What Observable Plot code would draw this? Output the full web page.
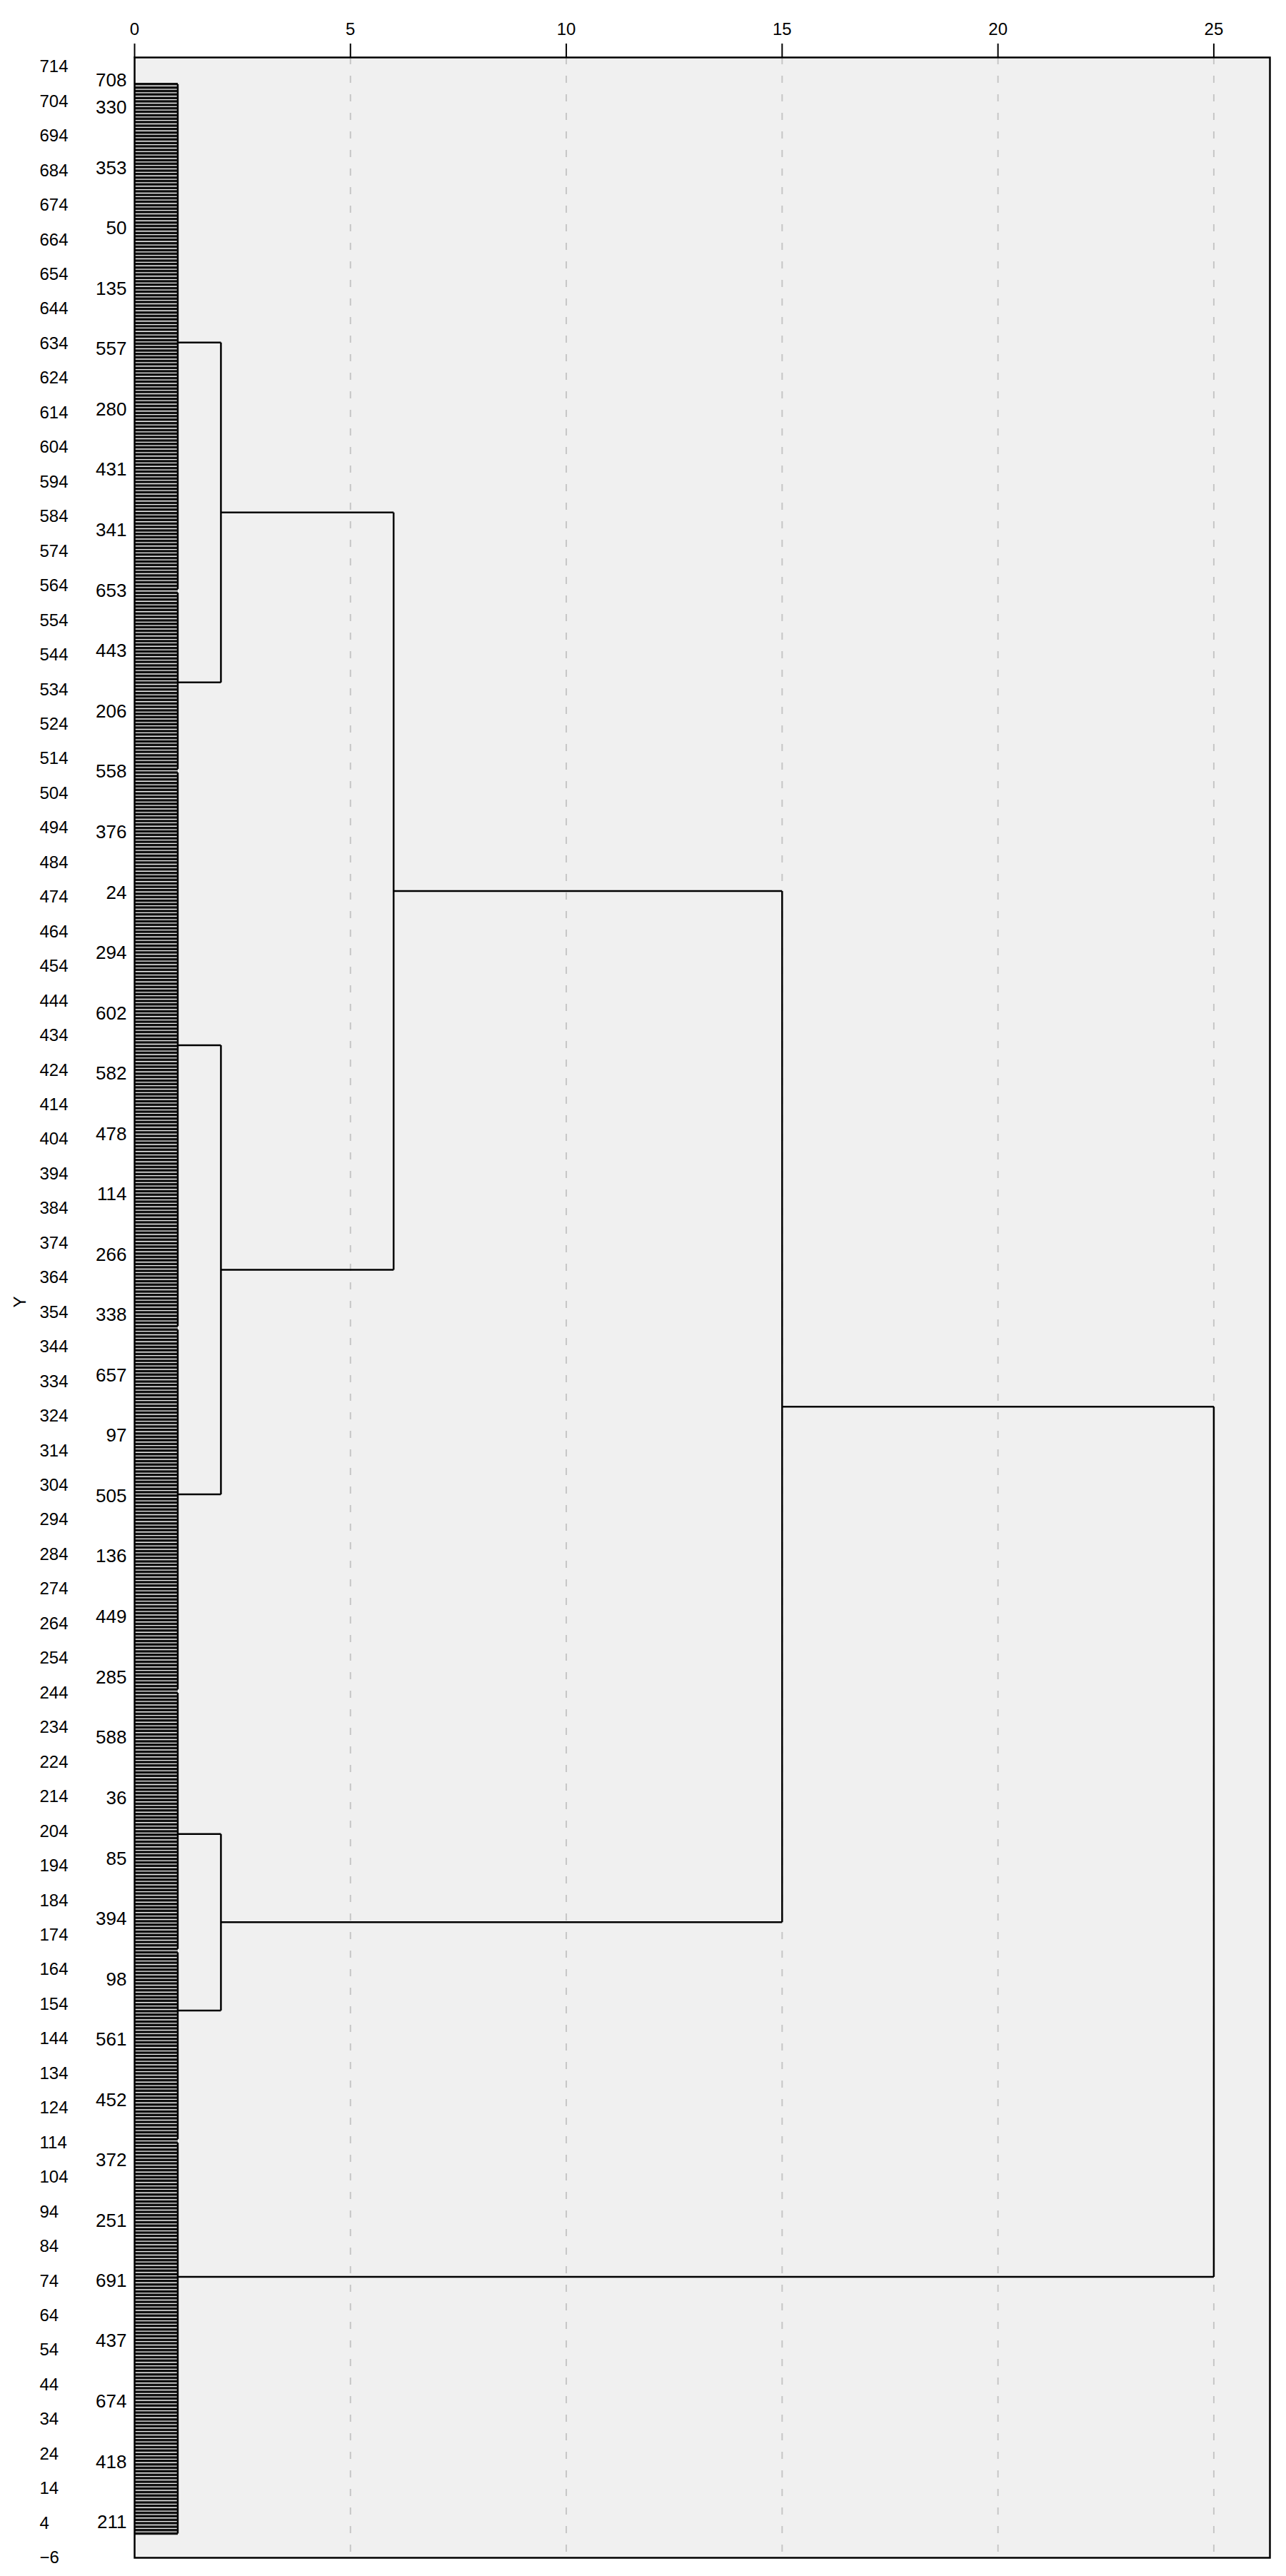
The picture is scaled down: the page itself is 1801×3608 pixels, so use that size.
<!DOCTYPE html>
<html><head><meta charset="utf-8">
<script src="https://cdn.jsdelivr.net/npm/d3@7"></script>
<script src="https://cdn.jsdelivr.net/npm/@observablehq/plot@0.6"></script>
<style>body{margin:0;background:#fff} svg{display:block}</style>
</head><body><div id="chart"></div>
<script>
// x axis (merge height) ticks
const xTicks = [0, 5, 10, 15, 20, 25];
// y axis (leaf order) ticks
const yTicks = [-6,4,14,24,34,44,54,64,74,84,94,104,114,124,134,144,154,164,174,184,194,204,214,224,234,244,254,264,274,284,294,304,314,324,334,344,354,364,374,384,394,404,414,424,434,444,454,464,474,484,494,504,514,524,534,544,554,564,574,584,594,604,614,624,634,644,654,664,674,684,694,704,714];

// leaf labels shown beside the leaves (bottom to top) and their leaf-order positions
const leafLabelNames = ["211","418","674","437","691","251","372","452","561","98","394","85","36","588","285","449","136","505","97","657","338","266","114","478","582","602","294","24","376","558","206","443","653","341","431","280","557","135","50","353","330","708"];
const leafLabelPositions = [4.2,21.6,39.1,56.6,74.0,91.4,108.9,126.3,143.8,161.2,178.7,196.1,213.6,231.0,248.5,265.9,283.4,300.8,318.3,335.7,353.2,370.6,388.1,405.5,423.0,440.4,457.9,475.3,492.8,510.2,527.7,545.1,562.6,580.0,597.5,614.9,632.4,649.8,667.3,684.7,702.2,710.1];

// clusters formed at height 1 (leaf-order ranges and drawn centre)
const clusterNames  = ["C1", "C2", "C3", "C4", "C5", "C6", "C7"];
const clusterLow    = [563, 511, 350, 245, 170, 115, 1];
const clusterHigh   = [709, 562, 510, 349, 244, 169, 114];
const clusterCenter = [634.3, 536.1, 431.2, 301.4, 203.2, 152.2, 75.2];
const clusterHeight = 1;

// higher merges
const mergeNames   = ["N1", "N2", "N3", "N4", "N5", "Root"];
const mergeHeights = [2, 2, 6, 2, 15, 25];
const mergeLeft    = ["C1", "C3", "N1", "C5", "N3", "N5"];
const mergeRight   = ["C2", "C4", "N2", "C6", "N4", "C7"];

// ---- build segments ----
const nodes = new Map();
clusterNames.forEach((n, i) => nodes.set(n, {h: clusterHeight, y: clusterCenter[i]}));
const leafSegs = [];
const clusterSegs = [];
clusterNames.forEach((n, i) => {
  for (const p of d3.range(clusterLow[i], clusterHigh[i] + 1)) leafSegs.push({x1: 0, x2: clusterHeight, y1: p, y2: p});
  clusterSegs.push({x1: clusterHeight, x2: clusterHeight, y1: clusterLow[i], y2: clusterHigh[i]});
});
const treeSegs = [];
mergeNames.forEach((n, i) => {
  const a = nodes.get(mergeLeft[i]), b = nodes.get(mergeRight[i]), h = mergeHeights[i];
  treeSegs.push({x1: a.h, x2: h, y1: a.y, y2: a.y});
  treeSegs.push({x1: b.h, x2: h, y1: b.y, y2: b.y});
  treeSegs.push({x1: h, x2: h, y1: a.y, y2: b.y});
  nodes.set(n, {h, y: (a.y + b.y) / 2});
});

const chart = Plot.plot({
  width: 1801, height: 3608,
  marginLeft: 188, marginRight: 23, marginTop: 80, marginBottom: 26,
  x: {domain: [0, 26.3]},
  y: {domain: [-6, 716.7]},
  style: {fontFamily: "'Liberation Sans', Arial, sans-serif", background: "white", color: "black"},
  marks: [
    Plot.frame({fill: "#f0f0f0", stroke: null}),
    Plot.ruleX(xTicks.filter(d => d > 0), {x: d => d, stroke: "#c6c6c6", strokeWidth: 2, strokeDasharray: "10,16"}),
    Plot.link(leafSegs, {x1: "x1", y1: "y1", x2: "x2", y2: "y2", stroke: "#111", strokeWidth: 3.5}),
    Plot.link(clusterSegs, {x1: "x1", y1: "y1", x2: "x2", y2: "y2", stroke: "black", strokeWidth: 2.5}),
    Plot.link(treeSegs, {x1: "x1", y1: "y1", x2: "x2", y2: "y2", stroke: "black", strokeWidth: 2.5}),
    Plot.frame({stroke: "black", strokeWidth: 2.5}),
    Plot.axisX({anchor: "top", ticks: xTicks, tickSize: 20, tickPadding: 12, fontSize: 24, strokeWidth: 2, label: null}),
    Plot.axisY({anchor: "left", ticks: yTicks, tickSize: 0, tickPadding: 0, textAnchor: "start", dx: -133, fontSize: 24, label: null}),
    Plot.text(leafLabelNames, {y: leafLabelPositions, text: d => d, frameAnchor: "left", textAnchor: "end", dx: -11, fontSize: 26}),
    Plot.text(["Y"], {frameAnchor: "left", dx: -160, rotate: -90, fontSize: 24})
  ]
});
document.getElementById("chart").append(chart);
</script>
</body></html>
